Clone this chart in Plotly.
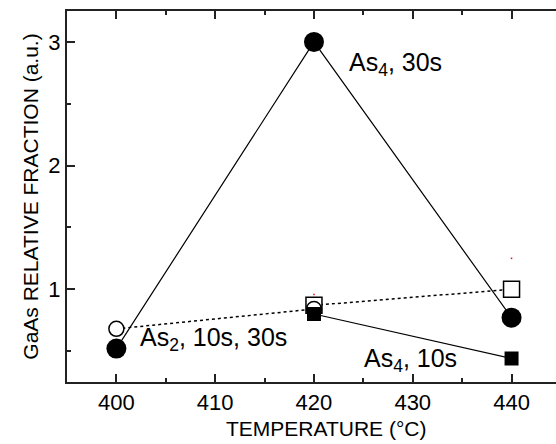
import plotly.graph_objects as go

# Growth temperature (deg C)
temps = [400, 420, 440]

# As4, 30 s  (filled circles, solid line)
as4_30s = [0.52, 3.00, 0.77]

# As2, 10 s  (open circles) and As2, 30 s (open squares), dotted line
as2_circ_t = [400, 420]
as2_circ_y = [0.68, 0.84]
as2_sq_t = [420, 440]
as2_sq_y = [0.87, 1.00]

# As4, 10 s  (filled squares, solid line)
as4_10s_t = [420, 440]
as4_10s_y = [0.80, 0.44]

# stray error points
err_t = [420, 440]
err_y = [0.957, 1.25]

FONT = "Liberation Sans, Arial, sans-serif"

fig = go.Figure()

fig.add_trace(go.Scatter(
    x=as2_sq_t, y=as2_sq_y, mode="lines+markers",
    line=dict(color="black", width=1.5, dash="dot"),
    marker=dict(symbol="square", size=16, color="white",
                line=dict(color="black", width=1.5)),
    showlegend=False))
fig.add_trace(go.Scatter(
    x=as2_circ_t, y=as2_circ_y, mode="lines+markers",
    line=dict(color="black", width=1.5, dash="dot"),
    marker=dict(symbol="circle", size=15, color="white",
                line=dict(color="black", width=1.5)),
    showlegend=False))
fig.add_trace(go.Scatter(
    x=temps, y=as4_30s, mode="lines+markers",
    line=dict(color="black", width=1.2),
    marker=dict(symbol="circle", size=20, color="black"),
    showlegend=False))
fig.add_trace(go.Scatter(
    x=as4_10s_t, y=as4_10s_y, mode="lines+markers",
    line=dict(color="black", width=1.2),
    marker=dict(symbol="square", size=14, color="black"),
    showlegend=False))
fig.add_trace(go.Scatter(
    x=err_t, y=err_y, mode="markers",
    marker=dict(symbol="square", size=1.5, color="red"),
    showlegend=False))

labels = [
    (423.3, 2.82, "As<sub>4</sub>, 30s"),
    (402.2, 0.60, "As<sub>2</sub>, 10s, 30s"),
    (424.9, 0.425, "As<sub>4</sub>, 10s"),
]
for lx, ly, txt in labels:
    fig.add_annotation(x=lx, y=ly, text=txt, showarrow=False,
                       xanchor="left", yanchor="middle",
                       font=dict(family=FONT, size=25, color="black"))

# x-axis title
fig.add_annotation(x=0.53, y=-0.124, xref="paper", yref="paper",
                   text="TEMPERATURE (°C)", showarrow=False,
                   xanchor="center", yanchor="middle",
                   font=dict(family=FONT, size=21, color="black"))

fig.update_layout(
    width=556, height=444,
    margin=dict(l=67, r=0, t=11, b=62),
    paper_bgcolor="white", plot_bgcolor="white",
    font=dict(family=FONT, color="black"),
    xaxis=dict(
        range=[395, 444.5], tickvals=[400, 410, 420, 430, 440],
        ticks="inside", ticklen=8, tickwidth=1.5, tickcolor="#222",
        minor=dict(ticks="inside", ticklen=4, tickwidth=1.5,
                   tickcolor="#222", dtick=5, tick0=395),
        showline=True, linecolor="#222", linewidth=2, mirror="ticks",
        showgrid=False, zeroline=False,
        tickfont=dict(size=22),
    ),
    yaxis=dict(
        range=[0.25, 3.25], tickvals=[1, 2, 3],
        ticks="inside", ticklen=8, tickwidth=1.5, tickcolor="#222",
        minor=dict(ticks="inside", ticklen=4, tickwidth=1.5,
                   tickcolor="#222", tickvals=[0.5, 1.5, 2.5]),
        showline=True, linecolor="#222", linewidth=2, mirror=False,
        showgrid=False, zeroline=False,
        tickfont=dict(size=22),
        title=dict(text="GaAs RELATIVE FRACTION (a.u.)", font=dict(size=21),
                   standoff=4),
    ),
    yaxis2=dict(
        overlaying="y", side="right", range=[0.25, 3.25], tickvals=[1, 2, 3],
        ticks="inside", ticklen=4, tickwidth=1.5, tickcolor="#222",
        showticklabels=False, showline=False, showgrid=False, zeroline=False,
    ),
)

fig.write_html("out.html")
